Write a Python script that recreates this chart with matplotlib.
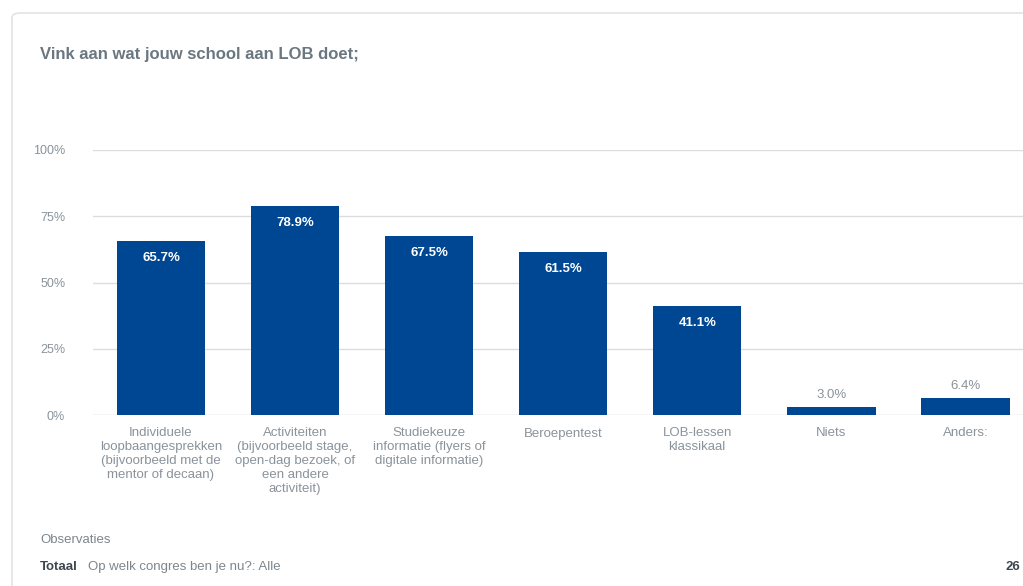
import matplotlib.pyplot as plt
from matplotlib.patches import FancyBboxPatch

plt.rcParams['font.family'] = ['Liberation Sans', 'DejaVu Sans']

# data
categories = [
    "Individuele\nloopbaangesprekken\n(bijvoorbeeld met de\nmentor of decaan)",
    "Activiteiten\n(bijvoorbeeld stage,\nopen-dag bezoek, of\neen andere\nactiviteit)",
    "Studiekeuze\ninformatie (flyers of\ndigitale informatie)",
    "Beroepentest",
    "LOB-lessen\nklassikaal",
    "Niets",
    "Anders:",
]
values = [65.7, 78.9, 67.5, 61.5, 41.1, 3.0, 6.4]
yticks = [0, 25, 50, 75, 100]
ytick_labels = ["0%", "25%", "50%", "75%", "100%"]

bar_color = "#004793"
text_gray = "#8a939b"

fig = plt.figure(figsize=(10.23, 5.86), dpi=100)

# card outline
card = FancyBboxPatch((12 / 1023, -0.05), 1.1, (586 - 13) / 586 + 0.05,
                      boxstyle="round,pad=0,rounding_size=0.008",
                      transform=fig.transFigure, facecolor="white",
                      edgecolor="#e3e3e3", linewidth=1.2, zorder=-5)
fig.patches.append(card)

fig.text(40 / 1023, 1 - 54 / 586, "Vink aan wat jouw school aan LOB doet;",
         fontsize=12, fontweight="bold", color="#6b7780", va="center")

ax = fig.add_axes([93 / 1023, 171 / 586, 930 / 1023, 265 / 586])
ax.set_facecolor("none")
x = range(len(values))
ax.bar(x, values, width=0.66, color=bar_color, zorder=3)
ax.set_xlim(-0.507, 6.43)
ax.set_ylim(0, 100)

for v in yticks:
    ax.axhline(v, color="#cfcfcf" if v == 0 else "#dddddd", lw=1, zorder=1)

for xi, v in zip(x, values):
    if v > 10:
        ax.annotate(f"{v:.1f}%", (xi, v), xytext=(0, -17), textcoords="offset pixels",
                    ha="center", va="center", color="white", fontsize=9.5,
                    fontweight="bold", zorder=4)
    else:
        ax.annotate(f"{v:.1f}%", (xi, v), xytext=(0, 12), textcoords="offset pixels",
                    ha="center", va="center", color=text_gray, fontsize=9.5, zorder=4)

ax.set_yticks(yticks)
ax.set_yticklabels(ytick_labels, color=text_gray, fontsize=9)
ax.set_xticks(list(x))
ax.set_xticklabels(categories, color=text_gray, fontsize=9.5, linespacing=1.2, va="top")
ax.tick_params(axis="y", length=0, pad=20)
ax.tick_params(axis="x", length=0, pad=9)
for s in ax.spines.values():
    s.set_visible(False)

fig.text(40 / 1023, 1 - 540 / 586, "Observaties", fontsize=9.5, color="#7d868d", va="center")
fig.text(40 / 1023, 1 - 567 / 586, "Totaal", fontsize=9.5, color="#3d4750",
         fontweight="bold", va="center")
fig.text(88 / 1023, 1 - 567 / 586, "Op welk congres ben je nu?: Alle", fontsize=9.5,
         color="#7d868d", va="center")
fig.text(1006 / 1023, 1 - 567 / 586, "26", fontsize=9.5, color="#3d4750",
         fontweight="bold", va="center")

fig.savefig("out.png", dpi=100)
